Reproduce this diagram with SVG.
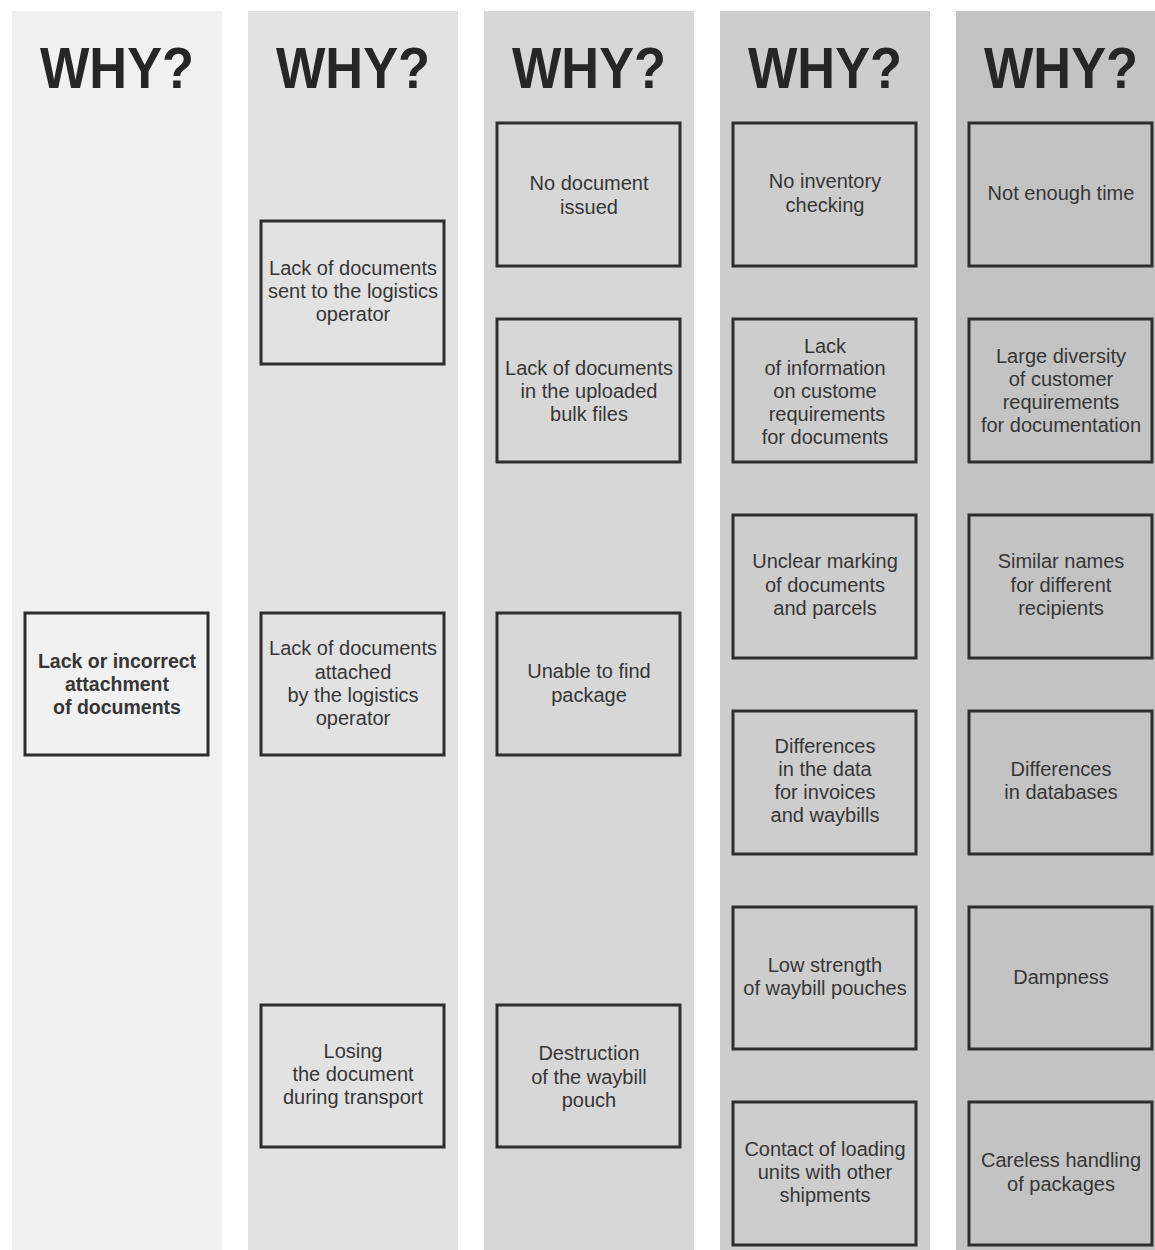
<svg xmlns="http://www.w3.org/2000/svg" width="1155" height="1250" viewBox="0 0 1155 1250">
<style>
.why{font-family:"Liberation Sans",Arial,sans-serif;font-weight:bold;font-size:57px;fill:#262626;text-anchor:middle}
.box{stroke:#2e2e2e;stroke-width:3;fill:none}
.t{font-family:"Liberation Sans",Arial,sans-serif;font-size:20px;fill:#363636;text-anchor:middle}
.b{font-weight:bold;font-size:19.5px}
</style>
<rect width="1155" height="1250" fill="#ffffff"/>
<g id="columns">
<rect x="12" y="11" width="210" height="1239" fill="#f1f1f1"/>
<rect x="248" y="11" width="210" height="1239" fill="#e2e2e2"/>
<rect x="484" y="11" width="210" height="1239" fill="#d7d7d7"/>
<rect x="720" y="11" width="210" height="1239" fill="#cdcdcd"/>
<rect x="956" y="11" width="199" height="1239" fill="#c3c3c3"/>
</g>
<g id="headers">
<text class="why" x="117" y="88" textLength="154" lengthAdjust="spacingAndGlyphs">WHY?</text>
<text class="why" x="353" y="88" textLength="154" lengthAdjust="spacingAndGlyphs">WHY?</text>
<text class="why" x="589" y="88" textLength="154" lengthAdjust="spacingAndGlyphs">WHY?</text>
<text class="why" x="825" y="88" textLength="154" lengthAdjust="spacingAndGlyphs">WHY?</text>
<text class="why" x="1061" y="88" textLength="154" lengthAdjust="spacingAndGlyphs">WHY?</text>
</g>
<g id="connectors"></g>
<g id="n1"><rect class="box" x="25" y="613" width="183" height="142"/><text class="t b" x="117"><tspan x="117" y="668">Lack or incorrect</tspan><tspan x="117" y="691">attachment</tspan><tspan x="117" y="714">of documents</tspan></text></g>

<g id="n2a"><rect class="box" x="261" y="221" width="183" height="143"/><text class="t"><tspan x="353" y="275">Lack of documents</tspan><tspan x="353" y="298">sent to the logistics</tspan><tspan x="353" y="321">operator</tspan></text></g>
<g id="n2b"><rect class="box" x="261" y="613" width="183" height="142"/><text class="t"><tspan x="353" y="655">Lack of documents</tspan><tspan x="353" y="679">attached</tspan><tspan x="353" y="702">by the logistics</tspan><tspan x="353" y="725">operator</tspan></text></g>
<g id="n2c"><rect class="box" x="261" y="1005" width="183" height="142"/><text class="t"><tspan x="353" y="1058">Losing</tspan><tspan x="353" y="1081">the document</tspan><tspan x="353" y="1104">during transport</tspan></text></g>

<g id="n3a"><rect class="box" x="497" y="123" width="183" height="143"/><text class="t"><tspan x="589" y="190">No document</tspan><tspan x="589" y="214">issued</tspan></text></g>
<g id="n3b"><rect class="box" x="497" y="319" width="183" height="143"/><text class="t"><tspan x="589" y="375">Lack of documents</tspan><tspan x="589" y="398">in the uploaded</tspan><tspan x="589" y="421">bulk files</tspan></text></g>
<g id="n3c"><rect class="box" x="497" y="613" width="183" height="142"/><text class="t"><tspan x="589" y="678">Unable to find</tspan><tspan x="589" y="702">package</tspan></text></g>
<g id="n3d"><rect class="box" x="497" y="1005" width="183" height="142"/><text class="t"><tspan x="589" y="1060">Destruction</tspan><tspan x="589" y="1084">of the waybill</tspan><tspan x="589" y="1107">pouch</tspan></text></g>

<g id="n4a"><rect class="box" x="733" y="123" width="183" height="143"/><text class="t"><tspan x="825" y="188">No inventory</tspan><tspan x="825" y="212">checking</tspan></text></g>
<g id="n4b"><rect class="box" x="733" y="319" width="183" height="143"/><text class="t"><tspan x="825" y="353">Lack</tspan><tspan x="825" y="375">of information</tspan><tspan x="825" y="398">on custome</tspan><tspan x="827" y="421">requirements</tspan><tspan x="825" y="444">for documents</tspan></text></g>
<g id="n4c"><rect class="box" x="733" y="515" width="183" height="143"/><text class="t"><tspan x="825" y="568">Unclear marking</tspan><tspan x="825" y="592">of documents</tspan><tspan x="825" y="615">and parcels</tspan></text></g>
<g id="n4d"><rect class="box" x="733" y="711" width="183" height="143"/><text class="t"><tspan x="825" y="753">Differences</tspan><tspan x="825" y="776">in the data</tspan><tspan x="825" y="799">for invoices</tspan><tspan x="825" y="822">and waybills</tspan></text></g>
<g id="n4e"><rect class="box" x="733" y="907" width="183" height="142"/><text class="t"><tspan x="825" y="972">Low strength</tspan><tspan x="825" y="995">of waybill pouches</tspan></text></g>
<g id="n4f"><rect class="box" x="733" y="1102" width="183" height="143"/><text class="t"><tspan x="825" y="1156">Contact of loading</tspan><tspan x="825" y="1179">units with other</tspan><tspan x="825" y="1202">shipments</tspan></text></g>

<g id="n5a"><rect class="box" x="969" y="123" width="183" height="143"/><text class="t"><tspan x="1061" y="200">Not enough time</tspan></text></g>
<g id="n5b"><rect class="box" x="969" y="319" width="183" height="143"/><text class="t"><tspan x="1061" y="363">Large diversity</tspan><tspan x="1061" y="386">of customer</tspan><tspan x="1061" y="409">requirements</tspan><tspan x="1061" y="432">for documentation</tspan></text></g>
<g id="n5c"><rect class="box" x="969" y="515" width="183" height="143"/><text class="t"><tspan x="1061" y="568">Similar names</tspan><tspan x="1061" y="592">for different</tspan><tspan x="1061" y="615">recipients</tspan></text></g>
<g id="n5d"><rect class="box" x="969" y="711" width="183" height="143"/><text class="t"><tspan x="1061" y="776">Differences</tspan><tspan x="1061" y="799">in databases</tspan></text></g>
<g id="n5e"><rect class="box" x="969" y="907" width="183" height="142"/><text class="t"><tspan x="1061" y="984">Dampness</tspan></text></g>
<g id="n5f"><rect class="box" x="969" y="1102" width="183" height="143"/><text class="t"><tspan x="1061" y="1167">Careless handling</tspan><tspan x="1061" y="1191">of packages</tspan></text></g>
</svg>
